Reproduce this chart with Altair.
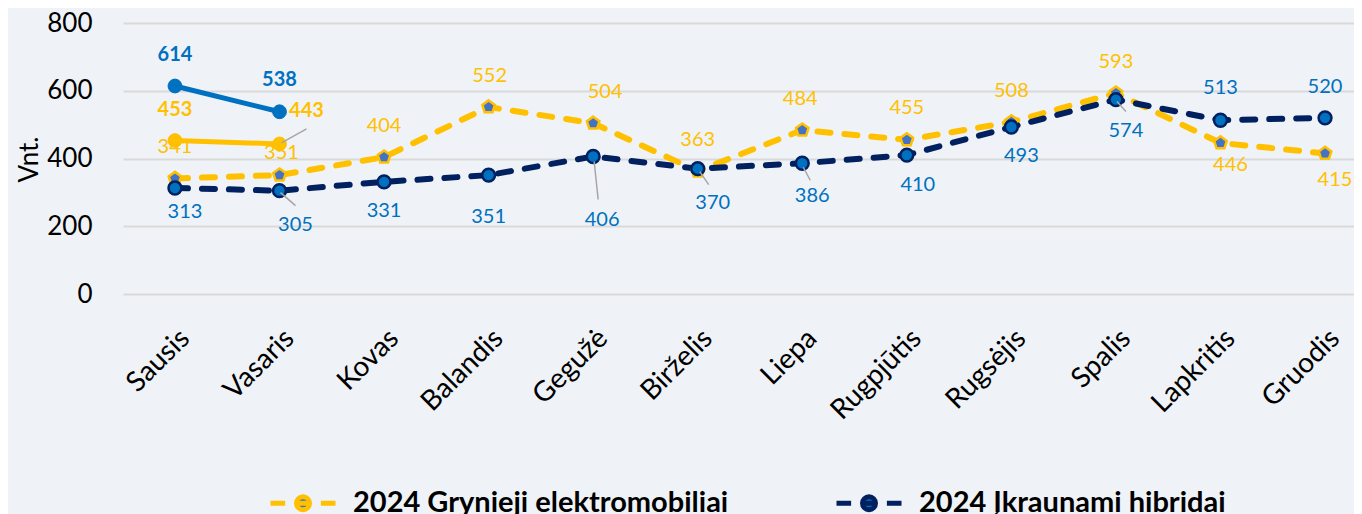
import altair as alt
import pandas as pd

MONTHS = ["Sausis", "Vasaris", "Kovas", "Balandis", "Gegužė", "Birželis",
          "Liepa", "Rugpjūtis", "Rugsėjis", "Spalis", "Lapkritis", "Gruodis"]
EV_2024 = [341, 351, 404, 552, 504, 363, 484, 455, 508, 593, 446, 415]
PHEV_2024 = [313, 305, 331, 351, 406, 370, 386, 410, 493, 574, 513, 520]
EV_2025 = [453, 443]
PHEV_2025 = [614, 538]

S_EV24 = "2024 Grynieji elektromobiliai"
S_PH24 = "2024 Įkraunami hibridai"
S_EV25 = "2025 Grynieji elektromobiliai"
S_PH25 = "2025 Įkraunami hibridai"
SERIES = [S_EV24, S_PH24, S_EV25, S_PH25]

YELLOW = "#FFC000"
NAVY = "#002060"
BLUE = "#0070C0"
MBLUE = "#4472C4"
FONT = "Lato"

rows = []
for name, vals in [(S_EV24, EV_2024), (S_PH24, PHEV_2024), (S_EV25, EV_2025), (S_PH25, PHEV_2025)]:
    for m, v in zip(MONTHS, vals):
        rows.append({"month": m, "series": name, "value": v, "key": name + "|" + m})
df = pd.DataFrame(rows)

# label placement (pixel offsets from the point)
LABEL_OFFSETS = {
    S_EV24: [(0, -31), (2, -22), (0, -31), (1, -31), (12, -31), (0, -31),
             (-2, -31), (0, -32), (0, -31), (0, -31), (10, 22), (10, 27)],
    S_PH24: [(10, 24), (16, 34), (0, 29), (0, 42), (9, 64), (15, 34),
             (10, 33), (11, 30), (10, 29), (10, 31), (0, -32), (0, -31)],
    S_EV25: [(0, -31), (27, -33)],
    S_PH25: [(0, -31), (0, -32)],
}
LABEL_COLORS = {S_EV24: YELLOW, S_PH24: BLUE, S_EV25: YELLOW, S_PH25: BLUE}
LABEL_BOLD = {S_EV24: "normal", S_PH24: "normal", S_EV25: "bold", S_PH25: "bold"}
LEADERS = [
    (S_EV25, "Vasaris", 2, -1, 27, -15),
    (S_PH24, "Vasaris", 1, 2, 16, 15),
    (S_PH24, "Gegužė", 1, 5, 5, 43),
    (S_PH24, "Birželis", 2, 3, 11, 16),
    (S_PH24, "Liepa", 1, 4, 8, 17),
    (S_PH24, "Spalis", 1, 2, 10, 12),
]

LEGEND_PATH = ("M-1,0H-0.55M-0.25,0H0.25M0.55,0H1"
               "M0.2,0A0.2,0.2 0 1 1 -0.2,0A0.2,0.2 0 1 1 0.2,0Z")
PENTAGON = "M0,-1L0.951,-0.309L0.588,0.809L-0.588,0.809L-0.951,-0.309Z"

x_enc = alt.X("month:N",
              scale=alt.Scale(type="point", domain=MONTHS, padding=0.387, align=0.642),
              axis=alt.Axis(title=None, labelAngle=-45, labelFont=FONT, labelFontSize=28,
                            labelColor="black", domain=False, ticks=False, grid=False,
                            labelPadding=30))
y_enc = alt.Y("value:Q",
              scale=alt.Scale(domain=[0, 800], nice=False),
              axis=alt.Axis(values=[0, 200, 400, 600, 800], title="Vnt.", titleFont=FONT,
                            titleFontSize=26, titleFontWeight="normal", titleColor="black",
                            titleAngle=-90, titleX=-94, titleY=136, titleAlign="center",
                            titleBaseline="middle", labelFont=FONT, labelFontSize=26,
                            labelColor="black", labelPadding=31, domain=False, ticks=False,
                            gridColor="#D9D9D9", gridWidth=2))

legend = alt.Legend(values=[S_EV24, S_PH24], orient="none", legendX=145, legendY=445,
                    direction="horizontal", title=None, symbolType=LEGEND_PATH,
                    symbolSize=4225, symbolStrokeWidth=5, labelFont=FONT, labelFontSize=29,
                    labelFontWeight="bold", labelColor="black", labelOffset=15,
                    columnPadding=97, labelLimit=0)

stroke_enc = alt.Stroke("series:N",
                        scale=alt.Scale(domain=SERIES, range=[YELLOW, NAVY, YELLOW, BLUE]),
                        legend=legend)
fill_enc = alt.Fill("series:N",
                    scale=alt.Scale(domain=SERIES, range=[MBLUE, BLUE, YELLOW, BLUE]),
                    legend=legend)

base = alt.Chart(df)

layers = []
# 2024 dashed lines
for s in [S_EV24, S_PH24]:
    layers.append(base.transform_filter(alt.datum.series == s)
                  .mark_line(strokeWidth=6, strokeDash=[13, 14], strokeCap="round")
                  .encode(x=x_enc, y=y_enc, stroke=stroke_enc))
# 2024 markers
layers.append(base.transform_filter(alt.datum.series == S_EV24)
              .mark_point(shape=PENTAGON, size=175, filled=False, strokeWidth=2.5, opacity=1)
              .encode(x=x_enc, y=y_enc, stroke=stroke_enc, fill=fill_enc))
layers.append(base.transform_filter(alt.datum.series == S_PH24)
              .mark_point(shape="circle", size=165, filled=False, strokeWidth=2.5, opacity=1)
              .encode(x=x_enc, y=y_enc, stroke=stroke_enc, fill=fill_enc))
# 2025 solid lines and markers
for s in [S_EV25, S_PH25]:
    layers.append(base.transform_filter(alt.datum.series == s)
                  .mark_line(strokeWidth=5)
                  .encode(x=x_enc, y=y_enc, stroke=stroke_enc))
    layers.append(base.transform_filter(alt.datum.series == s)
                  .mark_point(shape="circle", size=190, filled=False, strokeWidth=1, opacity=1)
                  .encode(x=x_enc, y=y_enc, stroke=stroke_enc, fill=fill_enc))

# leader lines
for s, m, x0, y0, x1, y1 in LEADERS:
    key = s + "|" + m
    layers.append(base.transform_filter(alt.datum.key == key)
                  .mark_rule(color="#A6A6A6", strokeWidth=1.5,
                             xOffset=x0, yOffset=y0, x2Offset=x1, y2Offset=y1)
                  .encode(x=x_enc, y=y_enc, x2="month:N", y2="value:Q"))

# value labels
for s in SERIES:
    n = len(LABEL_OFFSETS[s])
    for m, (dx, dy) in zip(MONTHS[:n], LABEL_OFFSETS[s]):
        key = s + "|" + m
        layers.append(base.transform_filter(alt.datum.key == key)
                      .mark_text(dx=dx, dy=dy, font=FONT, fontSize=20,
                                 fontWeight=LABEL_BOLD[s], color=LABEL_COLORS[s],
                                 align="center", baseline="middle")
                      .encode(x=x_enc, y=y_enc, text="value:Q"))

chart = alt.layer(*layers).properties(
    width=1231, height=271,
    padding={"left": 115, "top": 15, "right": 0, "bottom": 220},
    autosize=alt.AutoSizeParams(type="none"),
    background="#EFF3F7",
).configure_view(stroke=None)

chart.save("out.html", embed_options={"renderer": "svg", "actions": False})
